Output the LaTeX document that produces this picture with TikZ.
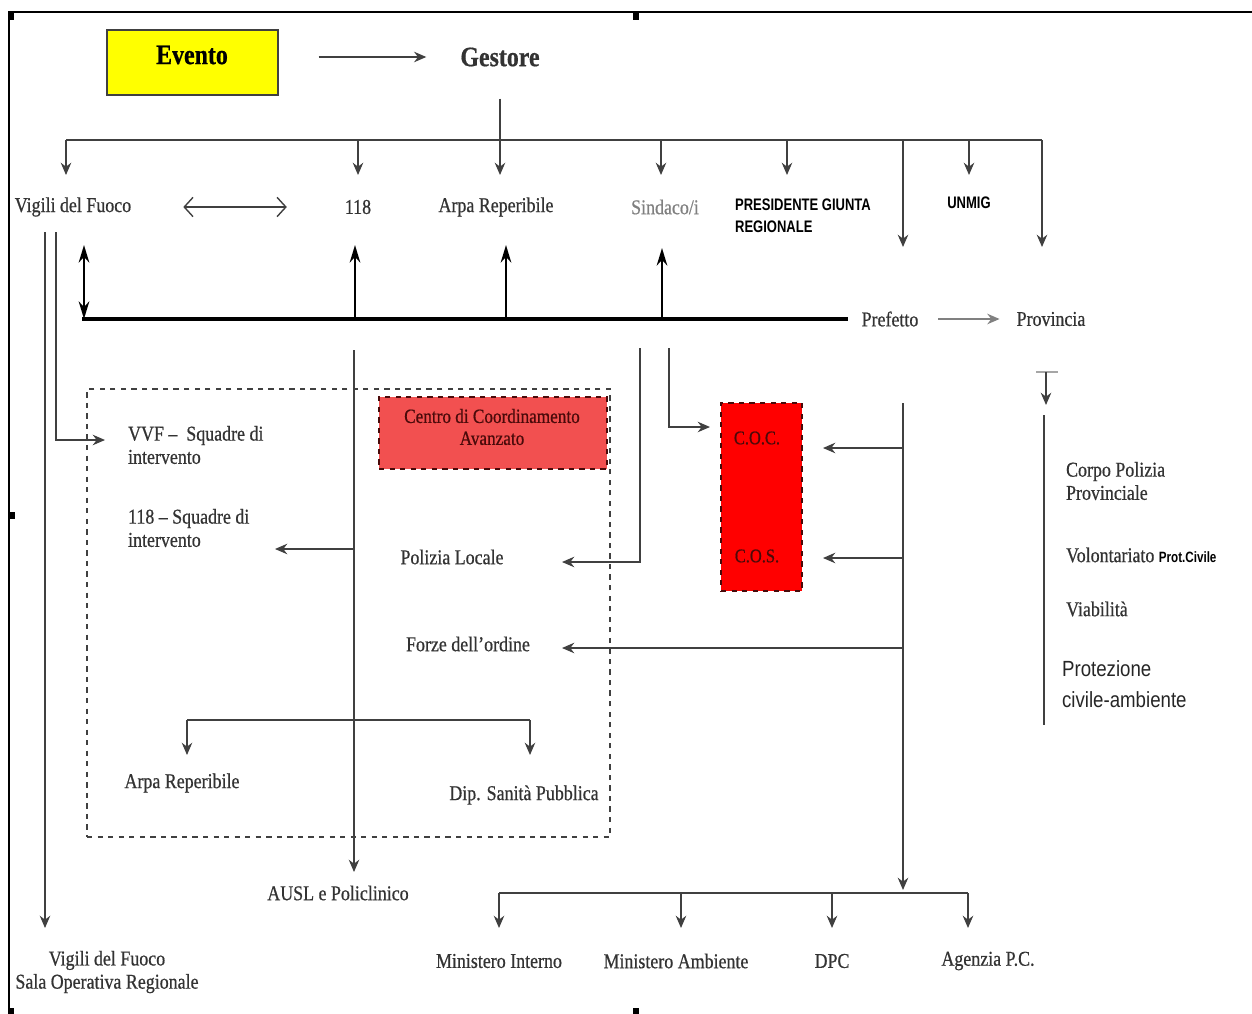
\documentclass[tikz,border=0pt]{standalone}
\usepackage{fontspec}
\setmainfont{Liberation Serif}[FakeStretch=0.85, FakeBold=0.6]
\newfontfamily\narrowsans{Liberation Sans}[FakeStretch=0.78]
\newfontfamily\plainsans{Liberation Sans}[FakeStretch=0.85]
\usetikzlibrary{arrows.meta}
\definecolor{txt}{HTML}{333333}
\definecolor{ln}{HTML}{404040}
\definecolor{evyellow}{HTML}{FFFF00}
\definecolor{ccared}{HTML}{F25050}
\definecolor{cocred}{HTML}{FF0000}
\definecolor{redtxt}{HTML}{4A0A0A}
\begin{document}
\begin{tikzpicture}[x=0.02cm,y=-0.02cm,
  lbl/.style={font=\fontsize{12}{13.2}\selectfont, text=txt, inner sep=1pt},
  lblL/.style={lbl, anchor=west, align=left},
  sanslbl/.style={font=\narrowsans\bfseries\fontsize{9.5}{12.5}\selectfont, text=black, inner sep=1pt},
  conn/.style={draw=ln, line width=0.8pt},
  arr/.style={conn, -{Stealth[length=7pt,width=6pt]}},
  boldline/.style={draw=black, line width=1.8pt},
  boldarr/.style={boldline, line width=1.5pt, -{Stealth[length=10pt,width=6pt]}},
  openarr/.style={conn, {Straight Barb[length=5pt,width=11pt]}-{Straight Barb[length=5pt,width=11pt]}},
  handle/.style={fill=black}
]
\useasboundingbox (0,0) rectangle (1252,1014);
% frame
\draw[black, line width=0.8pt] (9,1014) -- (9,12) -- (1252,12);
\fill[handle] (8,12) rectangle (14,20);
\fill[handle] (633,12) rectangle (639,20);
\fill[handle] (8,512) rectangle (15,519);
\fill[handle] (8,1008) rectangle (14,1014);
\fill[handle] (633,1008) rectangle (639,1014);

% top
\node[draw=ln, line width=0.8pt, fill=evyellow, minimum width=3.42cm, minimum height=1.3cm, inner sep=0] (ev) at (192.5,62.5) {};
\node[font=\bfseries\fontsize{16}{18}\selectfont, text=black, inner sep=1pt] (evt) at (192,55) {Evento};
\node[font=\bfseries\fontsize{16}{18}\selectfont, text=txt, inner sep=1pt] (gest) at (500,57) {Gestore};
\draw[arr, shorten <=0.8cm, shorten >=0.64cm] (ev.east |- gest) -- (gest.west);

% main bus
\coordinate (gbus) at (500,140);
\coordinate (busL) at (66,140);
\coordinate (busR) at (1042,140);
\draw[conn, shorten <=0.6cm] (gest.south) -- (gbus);
\draw[conn] (busL) -- (busR);
\foreach \x in {66,358,500,661,787,969}{
  \draw[arr] (\x,140) -- (\x,175);
}
\draw[arr] (903,140) -- (903,247);
\draw[arr] (1042,140) -- (1042,247);

% row labels
\node[lbl] (vf) at (73,207) {Vigili del Fuoco};
\node[lbl] (n118) at (358,207) {118};
\node[lbl] (arpa1) at (496,207) {Arpa Reperibile};
\node[lbl, text=gray] (sind) at (665,207) {Sindaco/i};
\node[sanslbl, anchor=north west, align=left] (pres) at (733,197) {PRESIDENTE GIUNTA\\REGIONALE};
\node[sanslbl] (unmig) at (969,203) {UNMIG};
\draw[openarr, shorten <=1.0cm, shorten >=1.12cm] (vf.east) -- (n118.west);

% bold line with Prefetto
\node[lbl] (pref) at (890,319) {Prefetto};
\node[lbl] (prov) at (1051,319) {Provincia};
\coordinate (thL) at (82,319);
\draw[boldline] (thL) -- ([xshift=-0.24cm]pref.west);
\draw[boldarr] (355,319) -- (355,245);
\draw[boldarr] (506,319) -- (506,245);
\draw[boldarr] (662,319) -- (662,248);
\draw[boldarr, {Stealth[length=10pt,width=6pt]}-{Stealth[length=10pt,width=6pt]}] (84,245) -- (84,319);
\draw[arr, draw=gray, shorten <=0.36cm, shorten >=0.3cm] (pref.east) -- (prov.west);

% Vigili del Fuoco branches
\node[lbl, align=center] (vfsor) at (107,972) {Vigili del Fuoco\\Sala Operativa Regionale};
\node[lblL] (vvf) at (126,445) {VVF –\ \ Squadre di\\intervento};
\draw[arr] (45,232) -- (45,928);
\draw[arr] (56,232) |- (105,440);

% dashed area
\node[draw=ln, dashed, line width=0.9pt, minimum width=10.46cm, minimum height=8.96cm, inner sep=0] (area) at (348.5,613) {};
\node[draw=redtxt, dashed, line width=0.8pt, fill=ccared, minimum width=4.56cm, minimum height=1.44cm, inner sep=0] (cca) at (493,433) {};
\node[align=center, font=\fontsize{11.5}{12.5}\selectfont, text=redtxt, inner sep=1pt] (ccat) at (492,427)
      {Centro di Coordinamento\\Avanzato};

% AUSL line
\node[lbl] (ausl) at (338,893) {AUSL e Policlinico};
\node[lblL] (sq118) at (126,528) {118 – Squadre di\\intervento};
\draw[arr] (354,350) -- (354,872);
\draw[arr] (354,549) -- (275,549);

% Sindaco branches
\node[lbl] (poli) at (452,557) {Polizia Locale};
\draw[arr] (640,348) |- (562,562);
\draw[arr] (669,348) |- (710,427);

% red box
\node[draw=redtxt, dashed, line width=0.8pt, fill=cocred, minimum width=1.62cm, minimum height=3.76cm, inner sep=0] (cocbox) at (761.5,497) {};
\node[font=\fontsize{11}{12}\selectfont, text=redtxt, inner sep=1pt] (coc) at (757,438) {C.O.C.};
\node[font=\fontsize{11}{12}\selectfont, text=redtxt, inner sep=1pt] (cos) at (757,556) {C.O.S.};

% Prefetto vertical
\node[lbl] (forze) at (468,644) {Forze dell'ordine};
\draw[arr] (903,403) -- (903,890);
\draw[arr] (903,448) -- (823,448);
\draw[arr] (903,558) -- (823,558);
\draw[arr] (903,648) -- (562,648);

% inner bracket
\node[lbl] (arpa2) at (182,783) {Arpa Reperibile};
\node[lbl] (dip) at (524,795) {Dip. Sanità Pubblica};
\draw[conn] (187,720) -- (530,720);
\draw[arr] (187,720) -- (187,755);
\draw[arr] (530,720) -- (530,755);

% bottom bus
\draw[conn] (499,893) -- (968,893);
\foreach \x in {499,681,832,968}{
  \draw[arr] (\x,893) -- (\x,928);
}
\node[lbl] (mi) at (499,961) {Ministero Interno};
\node[lbl] (ma) at (676,961) {Ministero Ambiente};
\node[lbl] (dpc) at (832,961) {DPC};
\node[lbl] (apc) at (988,961) {Agenzia P.C.};

% Provincia branch
\draw[draw=gray!70, line width=0.6pt] (1036,372) -- (1058,372);
\draw[arr] (1046,372) -- (1046,405);
\draw[conn] (1044,415) -- (1044,725);
\node[lblL] (cpp) at (1064,481) {Corpo Polizia\\Provinciale};
\node[lblL] (vol) at (1064,555) {Volontariato {\narrowsans\bfseries\fontsize{8.5}{10}\selectfont\color{black} Prot.Civile}};
\node[lblL] (via) at (1064,609) {Viabilità};
\node[anchor=west, align=left, inner sep=1pt, font=\plainsans\fontsize{12.5}{18}\selectfont, text=black!85] (prot) at (1060,684) {Protezione\\civile-ambiente};
\end{tikzpicture}
\end{document}
